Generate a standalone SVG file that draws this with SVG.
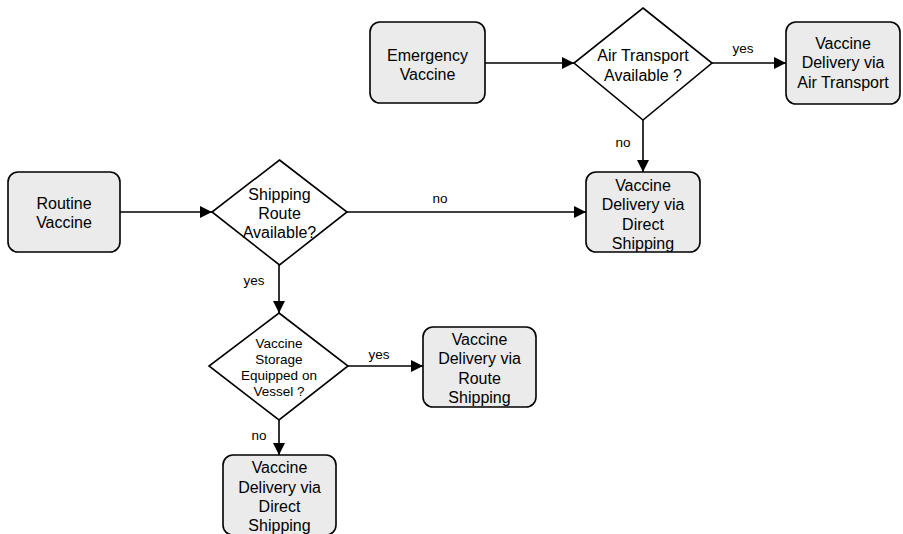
<svg xmlns="http://www.w3.org/2000/svg" width="903" height="534" viewBox="0 0 903 534">
<style>
.box{fill:#ebebeb;stroke:#000;stroke-width:1.6}
.dia{fill:#fff;stroke:#000;stroke-width:1.6}
.t{font-family:"Liberation Sans",Arial,sans-serif;font-size:16px;text-anchor:middle;fill:#000}
.s{font-family:"Liberation Sans",Arial,sans-serif;font-size:13.5px;text-anchor:middle;fill:#000}
.l{font-family:"Liberation Sans",Arial,sans-serif;font-size:13.5px;text-anchor:middle;fill:#000}
.c{fill:none;stroke:#000;stroke-width:1.6;marker-end:url(#ah)}
</style>
<defs>
<marker id="ah" markerWidth="12" markerHeight="12" refX="12" refY="6" orient="auto" markerUnits="userSpaceOnUse">
<path d="M0,0 L12,6 L0,12 Z" fill="#000"/>
</marker>
</defs>
<rect width="903" height="534" fill="#fff"/>
<g id="connectors">
<path class="c" d="M485,63 L574,63"/>
<path class="c" d="M712,63 L786,63"/>
<path class="c" d="M643,120 L643,172"/>
<path class="c" d="M120,212 L212,212"/>
<path class="c" d="M347,212 L586,212"/>
<path class="c" d="M279,265 L279,313"/>
<path class="c" d="M348,366 L423,366"/>
<path class="c" d="M279,420 L279,455"/>
<text class="l" x="743" y="53">yes</text>
<text class="l" x="623" y="147">no</text>
<text class="l" x="440" y="203">no</text>
<text class="l" x="254" y="285">yes</text>
<text class="l" x="379" y="359">yes</text>
<text class="l" x="259" y="440">no</text>
</g>
<g id="emergency">
<rect class="box" x="370" y="22" width="115" height="81" rx="10"/>
<text class="t" x="427.5" y="61">Emergency</text>
<text class="t" x="427.5" y="80">Vaccine</text>
</g>
<g id="air-decision">
<polygon class="dia" points="643,8 712,63 643,120 574,63"/>
<text class="t" x="643" y="61">Air Transport</text>
<text class="t" x="643" y="81">Available ?</text>
</g>
<g id="air-delivery">
<rect class="box" x="786" y="22" width="114" height="82" rx="10"/>
<text class="t" x="843" y="49">Vaccine</text>
<text class="t" x="843" y="68">Delivery via</text>
<text class="t" x="843" y="88">Air Transport</text>
</g>
<g id="direct-top">
<rect class="box" x="586" y="172" width="114" height="80" rx="10"/>
<text class="t" x="643" y="191">Vaccine</text>
<text class="t" x="643" y="210">Delivery via</text>
<text class="t" x="643" y="230">Direct</text>
<text class="t" x="643" y="249">Shipping</text>
</g>
<g id="routine">
<rect class="box" x="8" y="172" width="112" height="80" rx="10"/>
<text class="t" x="64" y="209">Routine</text>
<text class="t" x="64" y="228">Vaccine</text>
</g>
<g id="route-decision">
<polygon class="dia" points="279.5,160 347,212 279.5,265 212,212"/>
<text class="t" x="279.5" y="200">Shipping</text>
<text class="t" x="279.5" y="219">Route</text>
<text class="t" x="279.5" y="238">Available?</text>
</g>
<g id="storage-decision">
<polygon class="dia" points="279,313 348,366 279,420 209,366"/>
<text class="s" x="279" y="348">Vaccine</text>
<text class="s" x="279" y="364">Storage</text>
<text class="s" x="279" y="380">Equipped on</text>
<text class="s" x="279" y="396">Vessel ?</text>
</g>
<g id="route-delivery">
<rect class="box" x="423" y="327" width="113" height="80" rx="10"/>
<text class="t" x="479.5" y="345">Vaccine</text>
<text class="t" x="479.5" y="364">Delivery via</text>
<text class="t" x="479.5" y="384">Route</text>
<text class="t" x="479.5" y="403">Shipping</text>
</g>
<g id="direct-bottom">
<rect class="box" x="223" y="455" width="113" height="80" rx="10"/>
<text class="t" x="279.5" y="473">Vaccine</text>
<text class="t" x="279.5" y="493">Delivery via</text>
<text class="t" x="279.5" y="512">Direct</text>
<text class="t" x="279.5" y="531">Shipping</text>
</g>
</svg>
